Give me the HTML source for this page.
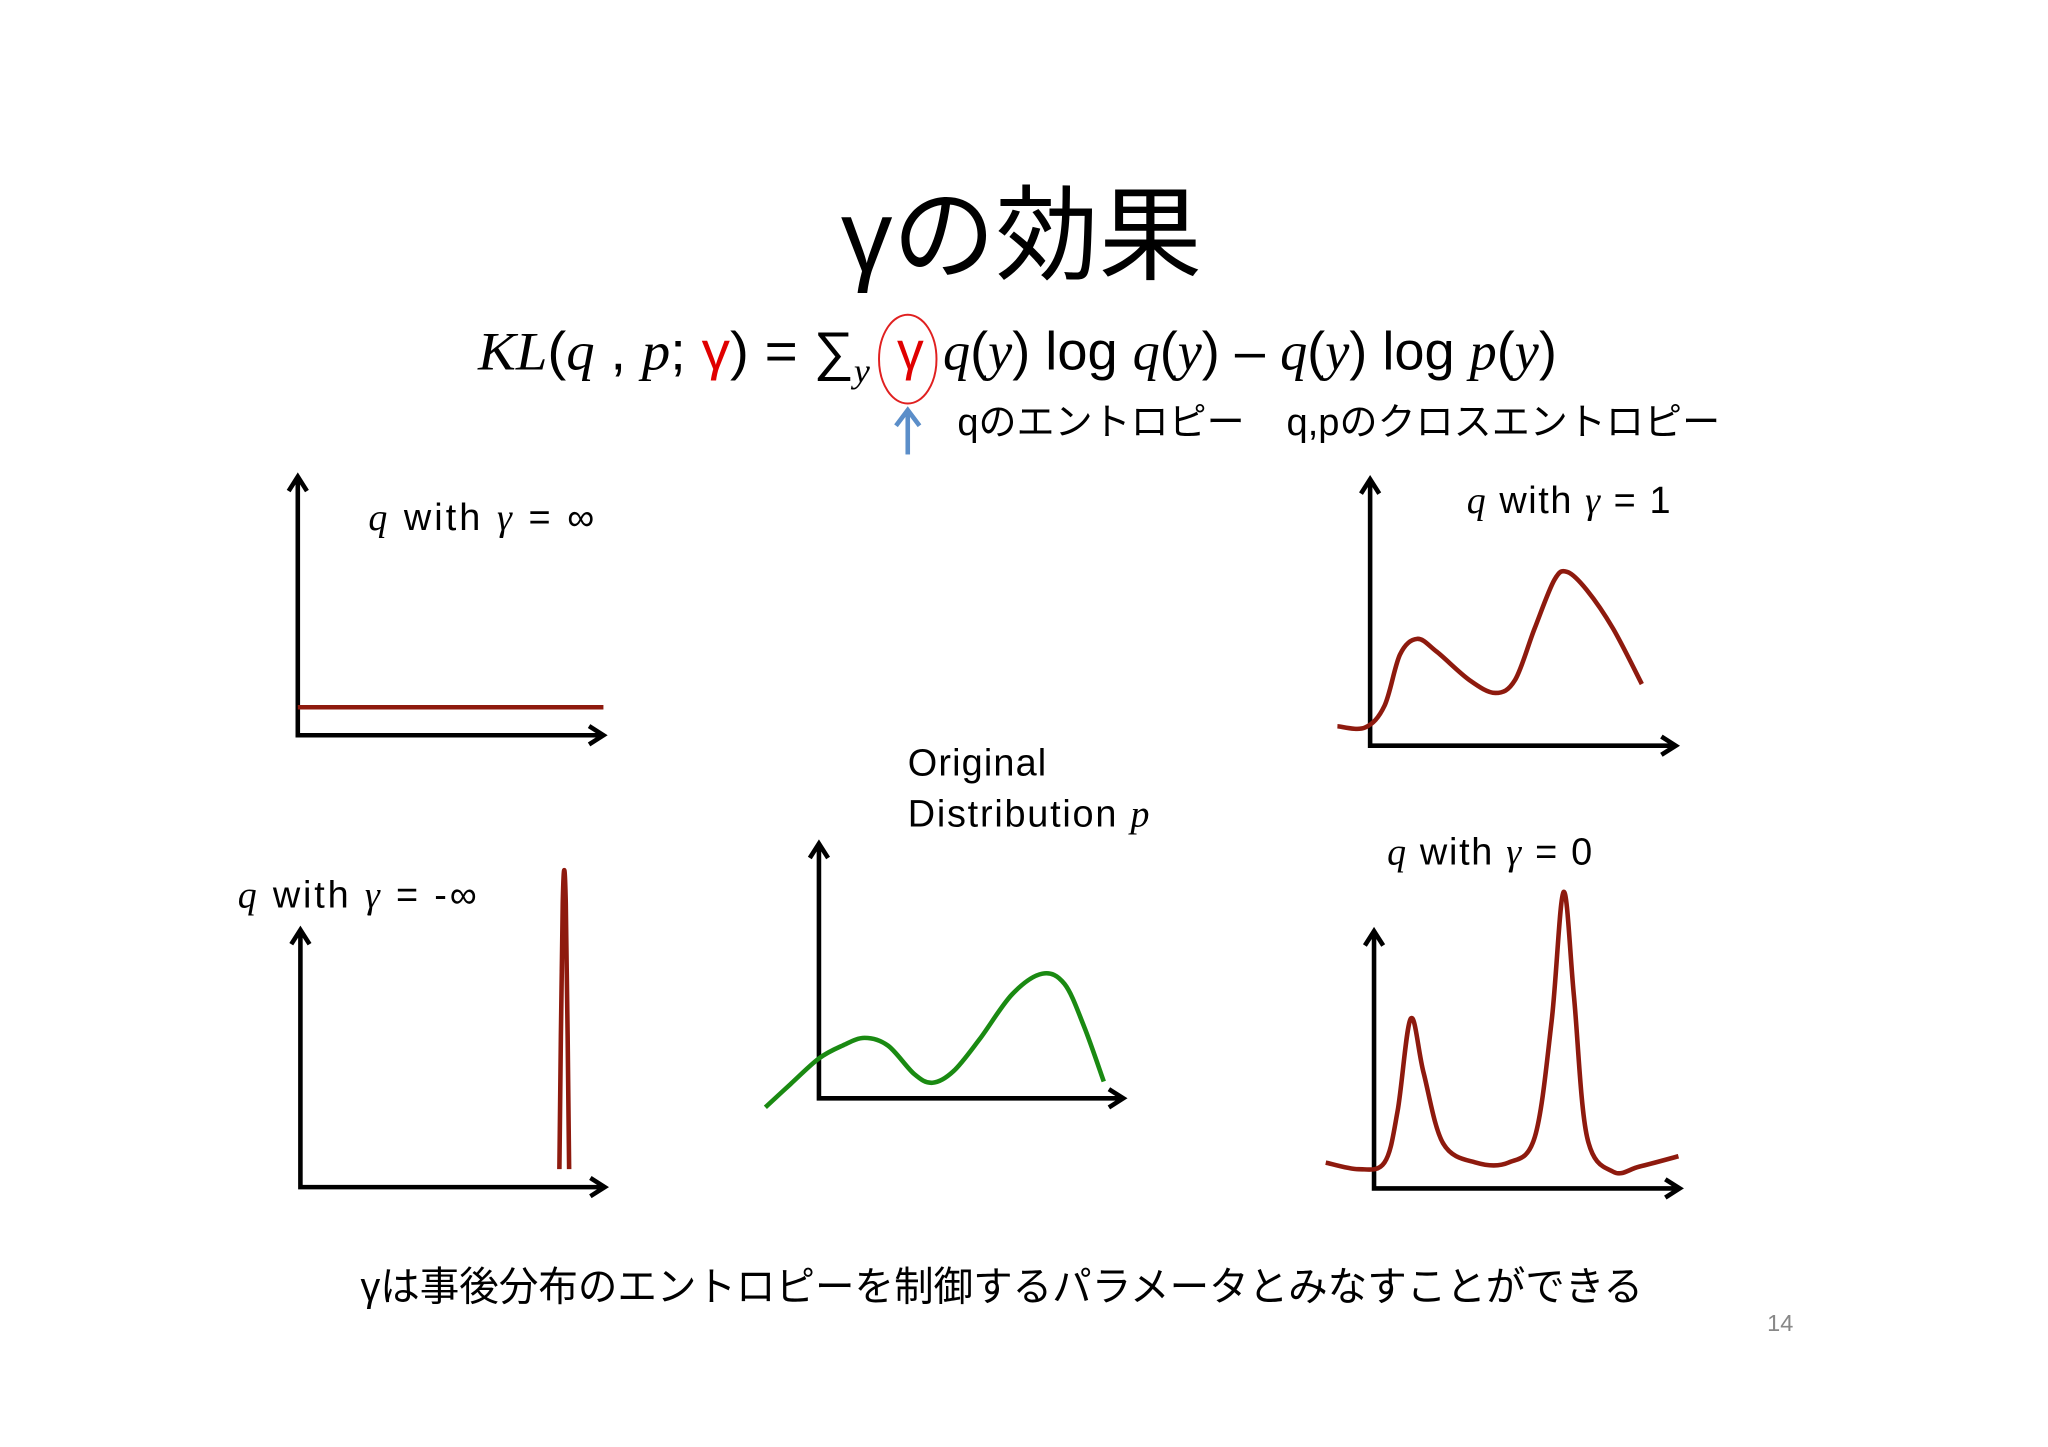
<!DOCTYPE html>
<html><head><meta charset="utf-8">
<style>
html,body{margin:0;padding:0;background:#fff;}
svg{display:block;}
.jp{font-family:"Liberation Sans","Noto Sans CJK JP",sans-serif;}
.m{font-family:"Liberation Serif","DejaVu Serif",serif;font-style:italic;}
</style></head>
<body>
<svg id="slide" width="2048" height="1447" viewBox="0 0 1568 1108" preserveAspectRatio="none" xmlns="http://www.w3.org/2000/svg">
<rect x="0" y="0" width="1568" height="1108" fill="#fff"/>
<text class="jp" x="782" y="208" text-anchor="middle" font-size="79" fill="#000">γの効果</text>
<g font-size="41" fill="#000">
<text class="jp" x="366" y="283" textLength="300" lengthAdjust="spacingAndGlyphs"><tspan class="m">KL</tspan>(<tspan class="m">q</tspan> , <tspan class="m">p</tspan>; <tspan fill="#e00000">γ</tspan>) = ∑<tspan class="m" font-size="26" dy="10">y</tspan></text>
<text class="jp" x="697" y="283" text-anchor="middle" fill="#e00000">γ</text>
<text class="jp" x="722" y="283" textLength="470" lengthAdjust="spacingAndGlyphs"><tspan class="m">q</tspan>(<tspan class="m">y</tspan>) log <tspan class="m">q</tspan>(<tspan class="m">y</tspan>) – <tspan class="m">q</tspan>(<tspan class="m">y</tspan>) log <tspan class="m">p</tspan>(<tspan class="m">y</tspan>)</text>
</g>
<ellipse cx="695" cy="275" rx="22" ry="34" fill="none" stroke="#e02020" stroke-width="1.5"/>
<g stroke="#5b8ec9" stroke-width="3.5" fill="none">
<line x1="695" y1="348" x2="695" y2="316"/>
<polyline points="686,326 695,314 704,326"/>
</g>
<text class="jp" x="733" y="333" font-size="29" textLength="220" lengthAdjust="spacingAndGlyphs">qのエントロピー</text>
<text class="jp" x="985" y="333" font-size="29" textLength="332" lengthAdjust="spacingAndGlyphs">q,pのクロスエントロピー</text>

<text class="jp" x="282" y="406" font-size="29" textLength="173" lengthAdjust="spacing"><tspan class="m">q</tspan> with <tspan class="m">γ</tspan> = ∞</text>
<text class="jp" x="1123" y="393" font-size="29" textLength="156" lengthAdjust="spacing"><tspan class="m">q</tspan> with <tspan class="m">γ</tspan> = 1</text>
<text class="jp" x="695" y="594" font-size="29" textLength="106" lengthAdjust="spacing">Original</text>
<text class="jp" x="695" y="633" font-size="29" textLength="185" lengthAdjust="spacing">Distribution <tspan class="m">p</tspan></text>
<text class="jp" x="182" y="695" font-size="29" textLength="183" lengthAdjust="spacing"><tspan class="m">q</tspan> with <tspan class="m">γ</tspan> = -∞</text>
<text class="jp" x="1062" y="662" font-size="29" textLength="157" lengthAdjust="spacing"><tspan class="m">q</tspan> with <tspan class="m">γ</tspan> = 0</text>

<g id="charts"></g>

<text class="jp" x="276" y="996" font-size="31" textLength="982" lengthAdjust="spacingAndGlyphs">γは事後分布のエントロピーを制御するパラメータとみなすことができる</text>
<text class="jp" x="1363" y="1019" text-anchor="middle" font-size="18" fill="#888">14</text>
</svg>
<script>
// Data in axis units: x 0..100 along axis, y 0..100 along axis height
const infX=[0,100];
const infY=[11,11];
const g1X=[-10.7,-1.7,4.7,9.8,15.4,21.8,32.5,41,47.4,53.8,60.3,64.5,70.9,79.5,88.9];
const g1Y=[7.4,6.9,15.2,34.8,40.7,35.8,25,20.1,25,44.6,63.2,66.2,59.3,44.6,23.5];
const negX=[85.1,86.2,87.2,88.3];
const negY=[7.1,112,112,7.1];
const pX=[-17.6,-9.4,0,7.7,15,22.7,31.3,37.3,44.2,52.8,63.5,73.4,80.7,87.1,93.6];
const pY=[-3.6,5.6,15.9,21,24.1,21,9.7,6.2,10.8,23.6,41.5,49.7,45.6,28.7,6.7];
const g0X=[-15.8,-5.1,3.4,7.7,12,16.2,22.6,33.3,44,52.6,58.1,62,65.4,69.7,78.2,86.8,99.6];
const g0Y=[10.2,7.6,10.2,30.5,67,45.7,17.8,10.2,10.2,20.3,66,117,76,20.3,6.6,8.6,12.7];

const NS='http://www.w3.org/2000/svg';
const root=document.getElementById('charts');
function mk(tag,attrs,parent){const e=document.createElementNS(NS,tag);for(const k in attrs)e.setAttribute(k,attrs[k]);parent.appendChild(e);return e;}
function panel(name,ox,oy,w,h){
  const g=mk('g',{},root);
  
  
  const ax=mk('path',{d:`M${ox},${oy-h} L${ox},${oy} L${ox+w},${oy} M${ox-7},${oy-h+11} L${ox},${oy-h} L${ox+7},${oy-h+11} M${ox+w-11},${oy-7} L${ox+w},${oy} L${ox+w-11},${oy+7}`,fill:'none',stroke:'#000','stroke-width':3.5},g);
  
  
  return {g,sx:v=>ox+v/100*w,sy:v=>oy-v/100*(h-3)};
}
function smooth(pts){
  let d=`M${pts[0][0]},${pts[0][1]}`;
  for(let i=0;i<pts.length-1;i++){
    const p0=pts[Math.max(0,i-1)],p1=pts[i],p2=pts[i+1],p3=pts[Math.min(pts.length-1,i+2)];
    const c1=[p1[0]+(p2[0]-p0[0])/6,p1[1]+(p2[1]-p0[1])/6];
    const c2=[p2[0]-(p3[0]-p1[0])/6,p2[1]-(p3[1]-p1[1])/6];
    d+=` C${c1[0]},${c1[1]} ${c2[0]},${c2[1]} ${p2[0]},${p2[1]}`;
  }
  return d;
}
function curve(P,xs,ys,color,name,sm){
  const pts=xs.map((x,i)=>[P.sx(x),P.sy(ys[i])]);
  const d=sm?smooth(pts):'M'+pts.map(p=>p.join(',')).join(' L');
  const c=mk('path',{d,fill:'none',stroke:color,'stroke-width':3.5,'stroke-linejoin':'round'},P.g);
  
  
}
const red='#8e1a0e';
const P1=panel('chart-gamma-inf',228,563,234,198); curve(P1,infX,infY,red,'curve-gamma-inf',false);
const P2=panel('chart-gamma-1',1049,571,234,204); curve(P2,g1X,g1Y,red,'curve-gamma-1',true);
const P3=panel('chart-gamma-neg-inf',230,909,233,197); curve(P3,negX,negY,red,'curve-gamma-neg-inf',true);
const P4=panel('chart-original',627,841,233,195); curve(P4,pX,pY,'#1a8a12','curve-original-p',true);
const P5=panel('chart-gamma-0',1052,910,234,197); curve(P5,g0X,g0Y,red,'curve-gamma-0',true);
</script>
</body></html>
